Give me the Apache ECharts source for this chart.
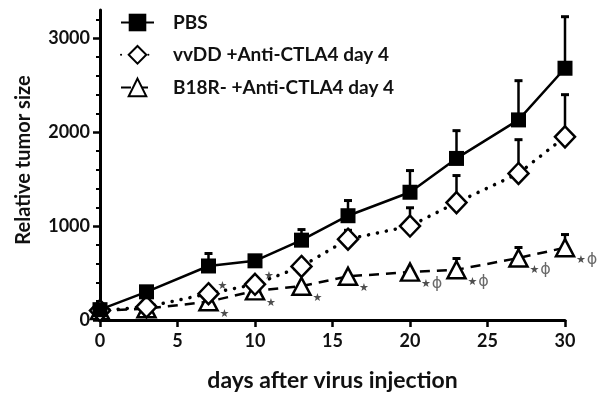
<!DOCTYPE html>
<html>
<head>
<meta charset="utf-8">
<script src="https://cdn.jsdelivr.net/npm/echarts@6/dist/echarts.min.js"></script>
<style>
html,body{margin:0;padding:0;background:#fff;}
#chart{width:601px;height:404px;}
</style>
</head>
<body>
<div id="chart"></div>
<script>
// ---- data ----
const days = [0, 3, 7, 10, 13, 16, 20, 23, 27, 30];
const pbs = [110, 300, 575, 630, 850, 1110, 1360, 1720, 2130, 2680];
const pbsErr = [0, 0, 138, 50, 118, 167, 236, 301, 423, 554];
const vvdd = [100, 140, 280, 380, 570, 860, 1000, 1250, 1560, 1950];
const vvddErr = [0, 0, 0, 0, 0, 100, 200, 293, 365, 454];
const b18r = [100, 120, 195, 310, 360, 465, 510, 535, 660, 770];
const b18rErr = [0, 0, 0, 0, 0, 0, 0, 125, 117, 145];
const vvddMarks = ['', '', '*', '*', '', '', '', '', '', ''];
const b18rMarks = ['', '', '*', '*', '*', '*', '*ϕ', '*ϕ', '*ϕ', '*ϕ'];
const seriesNames = ['PBS', 'vvDD +Anti-CTLA4 day 4', 'B18R- +Anti-CTLA4 day 4'];
const xTicks = [0, 5, 10, 15, 20, 25, 30];
const yLabels = [0, 1000, 2000, 3000];
const yMinor = [200, 400, 600, 800, 1200, 1400, 1600, 1800, 2200, 2400, 2600, 2800, 3200];

const FONT = 'Lato';
const pairs = (vals) => days.map((d, i) => [d, vals[i]]);

function errSeries(vals, errs, z) {
  return {
    type: 'custom',
    z: z,
    silent: true,
    data: days.map((d, i) => [d, vals[i], vals[i] + errs[i], errs[i]]),
    renderItem: function (params, api) {
      if (api.value(3) <= 0) return;
      const p0 = api.coord([api.value(0), api.value(1)]);
      const p1 = api.coord([api.value(0), api.value(2)]);
      return {
        type: 'group',
        children: [
          { type: 'line', shape: { x1: p0[0], y1: p0[1], x2: p1[0], y2: p1[1] },
            style: { stroke: '#000', lineWidth: 2.5 } },
          { type: 'line', shape: { x1: p1[0] - 4, y1: p1[1] + 0.5, x2: p1[0] + 4, y2: p1[1] + 0.5 },
            style: { stroke: '#000', lineWidth: 3 } }
        ]
      };
    }
  };
}

function markSeries(vals, marks, offset) {
  return {
    type: 'scatter',
    z: 20,
    silent: true,
    symbolSize: 0,
    data: pairs(vals),
    label: {
      show: true,
      position: 'right',
      distance: 0,
      offset: offset,
      formatter: function (p) {
        const m = marks[p.dataIndex];
        if (!m) return '';
        let s = '{s|★}';
        if (m.indexOf('ϕ') >= 0) s += '{p|ϕ}';
        return s;
      },
      rich: {
        s: { fontFamily: 'DejaVu Sans', fontSize: 11, color: '#222' },
        p: { fontFamily: 'DejaVu Sans', fontSize: 16, color: '#444', padding: [0, 0, 0, 1] }
      }
    }
  };
}

const chart = echarts.init(document.getElementById('chart'), null, { renderer: 'canvas' });
chart.setOption({
  animation: false,
  backgroundColor: '#fff',
  grid: { left: 100, right: 36, top: 10, bottom: 84, containLabel: false },
  legend: {
    orient: 'vertical',
    left: 115,
    top: 8,
    itemWidth: 33,
    itemGap: 13,
    itemHeight: 22,
    data: seriesNames,
    textStyle: { fontFamily: FONT, fontWeight: 'bold', fontSize: 19, color: '#111', padding: [0, 0, 0, 14] }
  },
  xAxis: {
    type: 'value',
    min: 0, max: 30, interval: 5,
    name: 'days after virus injection',
    nameLocation: 'middle',
    nameGap: 49,
    nameTextStyle: { fontFamily: FONT, fontWeight: 'bold', fontSize: 23, color: '#111' },
    splitLine: { show: false },
    axisLine: { onZero: false, lineStyle: { color: '#000', width: 3 } },
    axisTick: { show: true, length: 7, lineStyle: { color: '#000', width: 2.5 } },
    axisLabel: { margin: 12, fontFamily: FONT, fontWeight: 'bold', fontSize: 18, color: '#111',
      customValues: xTicks }
  },
  yAxis: [{
    type: 'value',
    min: 0, max: 3300,
    name: 'Relative tumor size',
    nameLocation: 'middle',
    nameGap: 66,
    nameRotate: 90,
    nameTextStyle: { fontFamily: FONT, fontWeight: 'bold', fontSize: 20, color: '#111', padding: [0, 0, 0, 10] },
    splitLine: { show: false },
    axisLine: { show: true, onZero: false, lineStyle: { color: '#000', width: 3 } },
    axisTick: { show: true, length: 7, lineStyle: { color: '#000', width: 2.5 }, customValues: yLabels },
    axisLabel: { margin: 10, fontFamily: FONT, fontWeight: 'bold', fontSize: 18, color: '#111',
      customValues: yLabels, formatter: function (v) { return String(v); } }
  }, {
    type: 'value',
    position: 'left',
    min: 0, max: 3300,
    splitLine: { show: false },
    axisLine: { show: false },
    axisTick: { show: true, length: 4, lineStyle: { color: '#000', width: 2 }, customValues: yMinor },
    axisLabel: { show: false }
  }],
  series: [
    errSeries(b18r, b18rErr, 3),
    errSeries(vvdd, vvddErr, 4),
    errSeries(pbs, pbsErr, 5),
    {
      name: seriesNames[2], type: 'line', z: 6, data: pairs(b18r),
      symbol: 'triangle', symbolSize: [18, 17],
      lineStyle: { color: '#000', width: 2.5, type: [10, 7] },
      itemStyle: { color: '#fff', borderColor: '#000', borderWidth: 2.5 }
    },
    {
      name: seriesNames[1], type: 'line', z: 7, data: pairs(vvdd),
      symbol: 'diamond', symbolSize: [20, 21],
      lineStyle: { color: '#000', width: 3.5, type: [0.1, 9], cap: 'round' },
      itemStyle: { color: '#fff', borderColor: '#000', borderWidth: 2.5 }
    },
    {
      name: seriesNames[0], type: 'line', z: 8, data: pairs(pbs),
      symbol: 'rect', symbolSize: 15,
      lineStyle: { color: '#000', width: 2.5, type: 'solid' },
      itemStyle: { color: '#000', borderColor: '#000', borderWidth: 0 }
    },
    markSeries(vvdd, vvddMarks, [9, -8]),
    markSeries(b18r, b18rMarks, [11, 12])
  ]
});
</script>
</body>
</html>
